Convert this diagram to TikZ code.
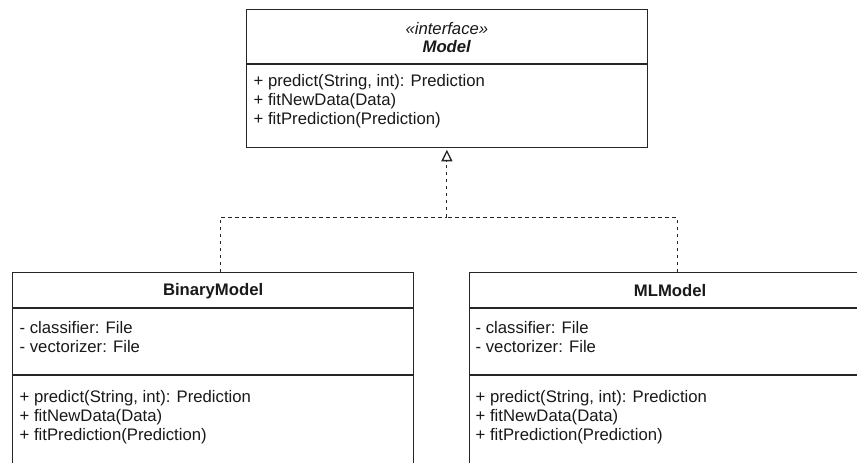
\documentclass[tikz,border=0pt]{standalone}
\usepackage{fontspec}
\setmainfont{Liberation Sans}
\usetikzlibrary{arrows.meta}

\tikzset{
  umlbox/.style={draw=black!85, line width=1.25pt, fill=white, rectangle,
    anchor=north west, inner sep=0pt, minimum width=401pt},
  divider/.style={draw=black!85, line width=1.25pt},
  members/.style={anchor=west, inner sep=0pt, align=left, text=black!90,
    font=\fontsize{16.7}{19}\selectfont},
  title/.style={inner sep=0pt, align=center, text=black!90,
    font=\fontsize{16.7}{18}\selectfont},
  dashline/.style={draw=black!85, line width=1.15pt, dash pattern=on 3.5pt off 3.5pt},
  realize/.style={dashline,
    -{Triangle[open, length=11.5pt, width=11pt, line width=1.3pt, fill=white]}}
}

\begin{document}
\begin{tikzpicture}[x=1pt, y=-1pt]
  \useasboundingbox (0,0) rectangle (857,463);
  \fill[white] (0,0) rectangle (857,463);
  \clip (0,0) rectangle (857,463);

  % interface Model
  \node[umlbox, minimum width=401.5pt, minimum height=138pt] (model) at (245.5,9) {};
  \draw[divider] (model.west |- 0,64) -- (model.east |- 0,64);
  \node[title] (modelname) at (model.north |- 0,38)
    {\textit{«interface»}\\\textbf{\textit{Model}}};
  \node[members] (modelops) at (253.5,101)
    {+ predict(String, int): Prediction\\+ fitNewData(Data)\\+ fitPrediction(Prediction)};

  % class BinaryModel
  \node[umlbox, minimum height=215pt] (binary) at (12,272) {};
  \draw[divider] (binary.west |- 0,308) -- (binary.east |- 0,308);
  \draw[divider] (binary.west |- 0,375) -- (binary.east |- 0,375);
  \node[title] (binaryname) at (binary.north |- 0,291) {\textbf{BinaryModel}};
  \node[members] (binaryattrs) at (19.5,337)
    {- classifier: File\\- vectorizer: File};
  \node[members] (binaryops) at (19.5,417)
    {+ predict(String, int): Prediction\\+ fitNewData(Data)\\+ fitPrediction(Prediction)};

  % class MLModel
  \node[umlbox, minimum height=215pt] (ml) at (469,272) {};
  \draw[divider] (ml.west |- 0,308) -- (ml.east |- 0,308);
  \draw[divider] (ml.west |- 0,375) -- (ml.east |- 0,375);
  \node[title] (mlname) at (ml.north |- 0,291) {\textbf{MLModel}};
  \node[members] (mlattrs) at (475.5,337)
    {- classifier: File\\- vectorizer: File};
  \node[members] (mlops) at (475.5,417)
    {+ predict(String, int): Prediction\\+ fitNewData(Data)\\+ fitPrediction(Prediction)};

  % realization connectors: two branches meet, one shared trunk to the interface
  \coordinate (join) at ([yshift=-69pt]model.south);
  \draw[dashline] ([xshift=7pt]binary.north) |- (join);
  \draw[dashline] ([xshift=7pt]ml.north) |- (join);
  \draw[realize] (join) -- ([yshift=-1.5pt]model.south);
\end{tikzpicture}
\end{document}
